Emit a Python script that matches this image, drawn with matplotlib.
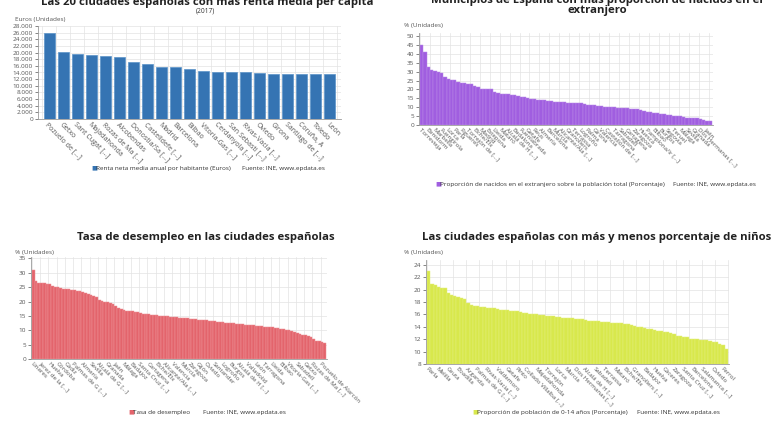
import matplotlib.pyplot as plt
from matplotlib.ticker import FuncFormatter, MultipleLocator

plt.rcParams["font.family"] = ["Open Sans", "DejaVu Sans"]

W, H = 780, 440

# Renta neta media anual por habitante (Euros), 2017
renta_ciudades = ["Pozuelo de [...]", "Getxo", "Sant Cugat [...]", "Majadahonda", "Rozas de Ma [...]",
                  "Alcobendas", "Donostia/Sa [...]", "Castelldefe [...]", "Madrid", "Barcelona", "Bilbao",
                  "Vitoria-Gas [...]", "Cerdanyola [...]", "San Sebasti [...]", "Rivas-Vacia [...]", "Oviedo",
                  "Girona", "Santiago de [...]", "Coruña, A", "Toledo", "León"]
renta_valores = [25800, 20100, 19500, 19200, 19100, 18800, 17100, 16500, 15800, 15700, 15100,
                 14400, 14300, 14300, 14000, 13700, 13600, 13600, 13600, 13400, 13400]

# Proporción de nacidos en el extranjero (%)
extranjero_valores = [45, 41, 32.5, 31, 30.5, 30, 29.5, 27, 26, 25.5, 25.5, 24, 23.5, 23.5, 23, 23,
                      22, 21.5, 20.5, 20.5, 20, 20, 18.5, 18, 17.5, 17.5, 17.5, 17, 17, 16.5, 16, 15.5,
                      15, 14.5, 14.5, 14, 14, 14, 13.5, 13.5, 13, 13, 13, 12.8, 12.5, 12.5, 12.5, 12.3,
                      12.2, 12, 11.5, 11, 11, 10.8, 10.5, 10.3, 10.2, 10, 10, 9.8, 9.5, 9.5, 9.3, 9.2,
                      9, 8.8, 8.5, 8, 7.5, 7.2, 7, 6.5, 6, 6, 5.8, 5.5, 5.2, 5, 4.8, 4.5, 4.2, 4, 4,
                      3.8, 3.5, 3, 2.5, 2.5]
extranjero_etiquetas = ["Torrevieja", "Benidorm", "Marbella", "Fuengirola", "Lorca", "Parla", "Figueres",
                        "Torrejón de [...]", "Elche/Elx", "Madrid", "Estepona", "Lleida", "Mataró",
                        "Alcalá de H [...]", "Badalona", "Fuenlabrada", "Getafe", "Reus", "Almería",
                        "Barcelona", "Murcia", "Alicante/Ala [...]", "Granollers", "Terrassa", "Logroño",
                        "Palma", "Girona", "Valencia", "Castellón de [...]", "Tarragona", "Sabadell",
                        "Cartagena", "Zaragoza", "Huesca", "Pamplona/Ir [...]", "Bilbao", "Burgos",
                        "Segovia", "Teruel", "Málaga", "Sevilla", "Granada", "Dos Hermanas [...]",
                        "Jaén", "Sanlúcar de Barram."]

# Tasa de desempleo (%)
desempleo_valores = [31, 27, 26.5, 26.3, 26.3, 26.2, 26, 25.5, 25.2, 25, 24.8, 24.5, 24.3, 24.2, 24, 24,
                     23.8, 23.5, 23.2, 23, 22.5, 22.3, 22, 21.5, 20.5, 20.3, 20, 19.8, 19.5, 19, 18.5,
                     17.8, 17.3, 17, 16.8, 16.7, 16.6, 16.5, 16.3, 16, 15.8, 15.6, 15.5, 15.4, 15.3,
                     15.2, 15.1, 15, 14.9, 14.8, 14.7, 14.6, 14.5, 14.4, 14.3, 14.2, 14.1, 14, 13.9,
                     13.8, 13.7, 13.6, 13.5, 13.4, 13.3, 13.2, 13.1, 13, 12.9, 12.8, 12.7, 12.6, 12.5,
                     12.4, 12.3, 12.2, 12.1, 12, 11.9, 11.8, 11.7, 11.6, 11.5, 11.4, 11.3, 11.2, 11.1,
                     11, 10.9, 10.8, 10.6, 10.4, 10.2, 10, 9.6, 9.3, 9, 8.8, 8.5, 8.3, 8.1, 7.8, 7,
                     6.3, 6.1, 6, 5.5]
desempleo_etiquetas = ["Linares", "Jerez de la [...]", "Huelva", "Córdoba", "Cádiz", "Palmas de G [...]",
                       "Almería", "Sevilla", "Alcalá de G [...]", "Granada", "Jaén", "Málaga", "Badajoz",
                       "Santa Cruz [...]", "Cartagena", "Elche/Elx", "Alicante/Ala [...]", "Valencia",
                       "Murcia", "Zaragoza", "Gijón", "Oviedo", "Santander", "Logroño", "Burgos",
                       "Alcalá de H [...]", "Valladolid", "León", "Tarragona", "Lleida", "Bilbao",
                       "Vitoria-Gas [...]", "Sabadell", "Getxo", "Rozas de Ma [...]", "Pozuelo de Alarcón"]

# Proporción de población de 0-14 años (%)
ninos_valores = [23, 21, 20.7, 20.5, 20.3, 20.2, 19.5, 19.2, 19, 18.8, 18.6, 18.5, 17.8, 17.5, 17.4,
                 17.3, 17.2, 17.2, 17.1, 17, 17, 16.9, 16.8, 16.8, 16.7, 16.6, 16.5, 16.5, 16.4, 16.3,
                 16.2, 16.1, 16, 16, 15.9, 15.9, 15.8, 15.7, 15.7, 15.6, 15.6, 15.5, 15.5, 15.4, 15.4,
                 15.3, 15.3, 15.2, 15.1, 15, 15, 14.9, 14.9, 14.8, 14.8, 14.8, 14.7, 14.7, 14.6, 14.6,
                 14.5, 14.4, 14.3, 14.1, 14, 13.9, 13.8, 13.7, 13.6, 13.5, 13.4, 13.3, 13.2, 13.1, 13,
                 12.8, 12.6, 12.5, 12.4, 12.3, 12.1, 12, 12, 11.9, 11.9, 11.8, 11.7, 11.6, 11.5, 11.3,
                 11, 10.5]
ninos_etiquetas = ["Parla", "Melilla", "Ceuta", "Boadilla", "Arganda", "Palmas de G [...]", "Rivas-Vacia [...]",
                   "Valdemoro", "Getafe", "Pinto", "Collado Villalba [...]", "Majadahonda", "Torrejón",
                   "Lorca", "Murcia", "Dos Hermanas [...]", "Alcalá de H [...]", "Sabadell", "Terrassa",
                   "Mataró", "Elche/Elx", "Granollers [...]", "Badajoz", "Huelva", "Cáceres",
                   "Zaragoza", "Santa Cruz [...]", "Barcelona", "Salamanca [...]", "Oviedo", "Ferrol"]

TITULO = 8.2


def px_axes(fig, x0, y0, x1, y1):
    return fig.add_axes([x0 / W, 1 - y1 / H, (x1 - x0) / W, (y1 - y0) / H])


def estilo(ax):
    for s in ["top", "right"]:
        ax.spines[s].set_visible(False)
    ax.spines["left"].set_color("#9a9a9a")
    ax.spines["bottom"].set_color("#9a9a9a")
    ax.spines["left"].set_linewidth(0.6)
    ax.spines["bottom"].set_linewidth(0.6)
    ax.tick_params(axis="y", labelsize=4.6, colors="#555555", length=2, width=0.5, pad=1.5)
    ax.tick_params(axis="x", which="both", length=0, pad=1.5)
    ax.tick_params(axis="x", labelsize=4.4, colors="#555555")
    ax.grid(axis="y", color="#e3e3e3", linewidth=0.5)
    ax.grid(axis="x", which="minor", color="#e3e3e3", linewidth=0.5)
    ax.set_axisbelow(True)


def barras_densas(ax, valores, etiquetas, color, borde, paso_etq, paso_grid):
    n = len(valores)
    x = list(range(n))
    ax.bar(x, valores, width=1.0, color=color, edgecolor=borde, linewidth=0.35)
    ax.set_xlim(-0.8, n - 0.2)
    pos = x[::paso_etq][:len(etiquetas)]
    ax.set_xticks(pos)
    ax.set_xticklabels(etiquetas[:len(pos)], rotation=-45, ha="left", va="top", rotation_mode="anchor")
    ax.set_xticks([i - 0.5 for i in range(0, n + 1, paso_grid)], minor=True)


def leyenda(fig, x, y, texto, color, x_fuente):
    fig.text(x / W, 1 - y / H, "\u25A0", color=color, fontsize=4.5, va="center",
             family=["DejaVu Sans"])
    fig.text((x + 5) / W, 1 - y / H, texto, color="#333333", fontsize=4.6, va="center")
    fig.text(x_fuente / W, 1 - y / H, "Fuente: INE, www.epdata.es", color="#333333",
             fontsize=4.6, va="center")


fig = plt.figure(figsize=(W / 100, H / 100), dpi=100)

# --- Renta media per cápita ---
ax1 = px_axes(fig, 38, 26, 341, 119)
estilo(ax1)
ax1.bar(range(len(renta_valores)), renta_valores, width=0.76, color="#3574b3",
        edgecolor="#5b93c9", linewidth=0.5)
ax1.set_xlim(-0.8, len(renta_valores) - 0.2)
ax1.set_ylim(0, 28000)
ax1.yaxis.set_major_locator(MultipleLocator(2000))
ax1.yaxis.set_major_formatter(FuncFormatter(lambda v, p: f"{int(v):,}".replace(",", ".")))
ax1.set_xticks(range(len(renta_ciudades)))
ax1.set_xticklabels(renta_ciudades, rotation=-45, ha="left", va="top", rotation_mode="anchor", fontsize=5)
ax1.set_xticks([i + 0.5 for i in range(-1, len(renta_valores))], minor=True)
# el título queda cortado por el borde superior, como en la captura original
fig.text(207 / W, 1 - 5 / H, "Las 20 ciudades españolas con más renta media per cápita",
         ha="center", va="baseline", fontsize=TITULO, fontweight="bold", color="#222222")
fig.text(205 / W, 1 - 10.5 / H, "(2017)", ha="center", va="center", fontsize=4.8, color="#333333")
fig.text(15 / W, 1 - 20 / H, "Euros (Unidades)", fontsize=4.6, color="#555555", va="center")
leyenda(fig, 91, 168, "Renta neta media anual por habitante (Euros)", "#3574b3", 242)

# --- Nacidos en el extranjero ---
ax2 = px_axes(fig, 419, 33, 713, 125)
estilo(ax2)
barras_densas(ax2, extranjero_valores, extranjero_etiquetas, "#a05ee0", "#b98ae8", 2, 3)
ax2.set_ylim(0, 51.7)
ax2.yaxis.set_major_locator(MultipleLocator(5))
fig.text(597 / W, 1 - 3.5 / H, "Municipios de España con más proporción de nacidos en el",
         ha="center", va="baseline", fontsize=TITULO, fontweight="bold", color="#222222")
fig.text(597 / W, 1 - 11 / H, "extranjero", ha="center", va="center", fontsize=TITULO,
         fontweight="bold", color="#222222")
fig.text(404 / W, 1 - 25 / H, "% (Unidades)", fontsize=4.6, color="#555555", va="center")
leyenda(fig, 435, 184, "Proporción de nacidos en el extranjero sobre la población total (Porcentaje)",
        "#a05ee0", 673)

# --- Tasa de desempleo ---
ax3 = px_axes(fig, 31, 257, 327, 359)
estilo(ax3)
barras_densas(ax3, desempleo_valores, desempleo_etiquetas, "#e3646c", "#ee9298", 3, 3)
ax3.set_ylim(0, 35.5)
ax3.yaxis.set_major_locator(MultipleLocator(5))
fig.text(206 / W, 1 - 237 / H, "Tasa de desempleo en las ciudades españolas",
         ha="center", va="center", fontsize=TITULO, fontweight="bold", color="#222222")
fig.text(15 / W, 1 - 252 / H, "% (Unidades)", fontsize=4.6, color="#555555", va="center")
leyenda(fig, 128, 412, "Tasa de desempleo", "#e3646c", 203)

# --- Porcentaje de niños ---
ax4 = px_axes(fig, 426, 260, 729, 364)
estilo(ax4)
barras_densas(ax4, ninos_valores, ninos_etiquetas, "#d8e84c", "#e3ef7c", 3, 4)
ax4.set_ylim(8, 24.8)
ax4.yaxis.set_major_locator(MultipleLocator(2))
fig.text(597 / W, 1 - 237 / H, "Las ciudades españolas con más y menos porcentaje de niños",
         ha="center", va="center", fontsize=TITULO, fontweight="bold", color="#222222")
fig.text(404 / W, 1 - 252 / H, "% (Unidades)", fontsize=4.6, color="#555555", va="center")
leyenda(fig, 472, 412, "Proporción de población de 0-14 años (Porcentaje)", "#d8e84c", 637)

fig.savefig("out.png", dpi=100)
